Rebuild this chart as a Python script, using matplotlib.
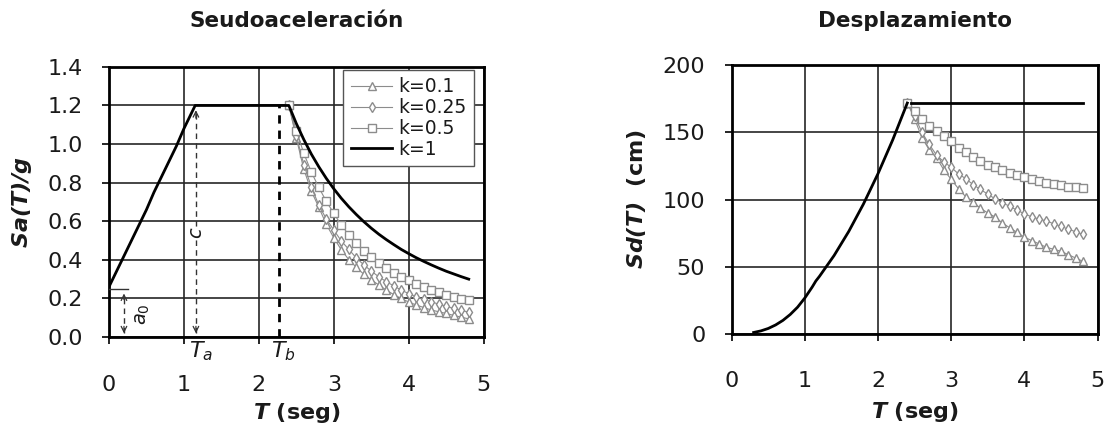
import matplotlib
matplotlib.use('Agg')
import matplotlib.pyplot as plt

# ---------------- data ----------------
T_rise = [0.0, 0.1, 0.2, 0.3, 0.4, 0.5, 0.6, 0.7, 0.8, 0.9, 1.0, 1.1, 1.15, 2.4]
Sa_rise = [0.26, 0.34, 0.42, 0.50, 0.58, 0.66, 0.75, 0.83, 0.91, 0.99, 1.08, 1.16, 1.20, 1.20]

T_dec = [2.4, 2.5, 2.6, 2.7, 2.8, 2.9, 3.0, 3.1, 3.2, 3.3, 3.4, 3.5, 3.6,
         3.7, 3.8, 3.9, 4.0, 4.1, 4.2, 4.3, 4.4, 4.5, 4.6, 4.7, 4.8]
Sa_k1 = [1.200, 1.106, 1.023, 0.948, 0.882, 0.822, 0.768, 0.719, 0.675, 0.635, 0.598, 0.564, 0.533,
         0.505, 0.479, 0.454, 0.432, 0.411, 0.392, 0.374, 0.357, 0.341, 0.327, 0.313, 0.300]
Sa_k05 = [1.200, 1.069, 0.952, 0.855, 0.775, 0.703, 0.641, 0.580, 0.530, 0.486, 0.447, 0.414, 0.385,
          0.359, 0.334, 0.312, 0.293, 0.275, 0.260, 0.245, 0.232, 0.220, 0.208, 0.199, 0.190]
Sa_k025 = [1.200, 1.043, 0.893, 0.778, 0.683, 0.612, 0.554, 0.498, 0.454, 0.410, 0.374, 0.342, 0.312,
           0.287, 0.265, 0.243, 0.225, 0.208, 0.195, 0.183, 0.170, 0.159, 0.148, 0.138, 0.129]
Sa_k01 = [1.200, 1.030, 0.869, 0.756, 0.672, 0.584, 0.514, 0.452, 0.401, 0.362, 0.325, 0.296, 0.270,
          0.243, 0.220, 0.200, 0.181, 0.166, 0.153, 0.140, 0.131, 0.122, 0.112, 0.103, 0.094]

T_sd_rise = [0.3, 0.4, 0.5, 0.6, 0.7, 0.8, 0.9, 1.0, 1.1, 1.15, 1.2, 1.4, 1.6, 1.8, 2.0, 2.2, 2.4]
Sd_rise = [1.1, 2.3, 4.1, 6.7, 10.1, 14.5, 19.9, 26.8, 34.9, 39.4, 42.9, 58.4, 76.3, 96.6, 119.3, 144.3, 171.8]
T_flat = [2.4, 4.8]
Sd_flat = [171.8, 171.8]
Sd_k05 = [172, 166, 160, 155, 151, 147, 143.5, 138.5, 135, 131.5, 128.5, 126, 124,
          122, 120, 118, 116.5, 115, 114, 112.5, 111.5, 110.5, 109.5, 109, 108.5]
Sd_k025 = [172, 162, 150, 141, 133, 128, 124, 119, 115.5, 111, 107.5, 104, 100.5,
           97.5, 95, 92, 89.5, 87, 85.5, 84, 82, 80, 78, 76, 74]
Sd_k01 = [172, 160, 146, 137, 131, 122, 115, 108, 102, 98, 93.5, 90, 87,
          82.5, 79, 75.5, 72, 69.5, 67, 64.5, 63, 61.5, 59, 56.5, 54]

labels = ['k=0.1', 'k=0.25', 'k=0.5', 'k=1']
Ta, Tb, a0_T, a0, c_val = 1.16, 2.27, 0.20, 0.25, 1.20

x_ticks = [0, 1, 2, 3, 4, 5]
sa_ticks = [0.0, 0.2, 0.4, 0.6, 0.8, 1.0, 1.2, 1.4]
sd_ticks = [0, 50, 100, 150, 200]

# ---------------- style ----------------
plt.rcParams['font.family'] = ['DejaVu Sans']
plt.rcParams['mathtext.fontset'] = 'dejavusans'
TXT = '#1a1a1a'
GRID = '#262626'
MK = '#8c8c8c'

fig = plt.figure(figsize=(11.12, 4.4), dpi=100)
ax1 = fig.add_axes([0.098, 0.234, 0.337, 0.614])
ax2 = fig.add_axes([0.658, 0.241, 0.329, 0.611])

mk_kw = dict(color=MK, lw=0.8, markerfacecolor='white', markeredgecolor=MK,
             markeredgewidth=1.0, markersize=5.5)

def style(ax, yt, ylim, yfmt):
    ax.set_xlim(0, 5)
    ax.set_ylim(*ylim)
    ax.set_xticks(x_ticks)
    ax.set_yticks(yt)
    ax.set_yticklabels([yfmt(v) for v in yt])
    ax.grid(True, color=GRID, lw=1.2)
    ax.set_axisbelow(True)
    for s in ax.spines.values():
        s.set_linewidth(2.0)
        s.set_color('black')
    ax.tick_params(axis='both', direction='out', length=5, width=1.2,
                   labelsize=16, colors='black', labelcolor=TXT)
    ax.tick_params(axis='x', pad=22)
    ax.tick_params(axis='y', pad=14)

# ---------------- left: Sa ----------------
ax1.plot(T_dec, Sa_k01, marker='^', label=labels[0], **mk_kw, zorder=3)
ax1.plot(T_dec, Sa_k025, marker='d', label=labels[1], **mk_kw, zorder=3)
ax1.plot(T_dec, Sa_k05, marker='s', label=labels[2], **mk_kw, zorder=3)
ax1.plot(T_rise + T_dec[1:], Sa_rise + Sa_k1[1:], color='black', lw=2.0, label=labels[3], zorder=4)
style(ax1, sa_ticks, (0, 1.4), lambda v: f'{v:.1f}')

# annotations
ax1.plot([Ta, Ta], [0.02, c_val - 0.03], ls=(0, (4, 3)), color='#333333', lw=1.0, zorder=5)
ax1.annotate('', xy=(Ta, c_val - 0.01), xytext=(Ta, c_val - 0.08),
             arrowprops=dict(arrowstyle='->', lw=0.9, color='#333333'), zorder=5)
ax1.annotate('', xy=(Ta, 0.005), xytext=(Ta, 0.07),
             arrowprops=dict(arrowstyle='->', lw=0.9, color='#333333'), zorder=5)
ax1.text(Ta, 0.54, 'c', rotation=90, style='italic', fontsize=14, color=TXT,
         ha='center', va='center', zorder=6,
         bbox=dict(facecolor='white', edgecolor='none', pad=0.5))
ax1.plot([0.0, a0_T + 0.05], [a0, a0], color='#333333', lw=1.0, zorder=5)
ax1.plot([a0_T, a0_T], [0.02, a0 - 0.03], ls=(0, (4, 3)), color='#333333', lw=1.0, zorder=5)
ax1.annotate('', xy=(a0_T, a0 - 0.01), xytext=(a0_T, a0 - 0.07),
             arrowprops=dict(arrowstyle='->', lw=0.9, color='#333333'), zorder=5)
ax1.annotate('', xy=(a0_T, 0.005), xytext=(a0_T, 0.07),
             arrowprops=dict(arrowstyle='->', lw=0.9, color='#333333'), zorder=5)
ax1.text(a0_T + 0.25, 0.12, r'$a_0$', rotation=90, fontsize=14, color=TXT,
         ha='center', va='center', zorder=6)
ax1.plot([Tb, Tb], [0, c_val], ls=(0, (3, 2.5)), color='black', lw=2.0, zorder=5)
ax1.text(Ta + 0.07, -0.075, r'$T_a$', fontsize=16, color=TXT, ha='center', va='center')
ax1.text(Tb + 0.05, -0.075, r'$T_b$', fontsize=16, color=TXT, ha='center', va='center')

leg = ax1.legend(loc='upper right', bbox_to_anchor=(0.973, 0.989), borderaxespad=0,
                 fontsize=13.5, handlelength=2.2, handletextpad=0.3, labelspacing=0.1,
                 borderpad=0.4, fancybox=False, framealpha=1, edgecolor='#555555')
leg.get_frame().set_linewidth(1.0)
for t in leg.get_texts():
    t.set_color(TXT)

ax1.set_xlabel(r'$\mathbfit{T}$ (seg)', fontsize=16, fontweight='bold', color=TXT, va='center')
ax1.xaxis.set_label_coords(0.5, -0.281)
ax1.set_ylabel(r'$\mathbfit{Sa(T)/g}$', fontsize=16, color=TXT, va='center')
ax1.yaxis.set_label_coords(-0.232, 0.5)
fig.text((0.098 + 0.435) / 2, 0.953, 'Seudoaceleración', fontsize=15.5, fontweight='bold',
         color=TXT, ha='center', va='center')

# ---------------- right: Sd ----------------
ax2.plot(T_dec, Sd_k01, marker='^', **mk_kw, zorder=3)
ax2.plot(T_dec, Sd_k025, marker='d', **mk_kw, zorder=3)
ax2.plot(T_dec, Sd_k05, marker='s', **mk_kw, zorder=3)
ax2.plot(T_sd_rise, Sd_rise, color='black', lw=2.0, zorder=4)
ax2.plot([T_flat[0] + 0.05, T_flat[1]], Sd_flat, color='black', lw=2.0, zorder=4)
style(ax2, sd_ticks, (0, 200), lambda v: f'{v:d}')

ax2.set_xlabel(r'$\mathbfit{T}$ (seg)', fontsize=16, fontweight='bold', color=TXT, va='center')
ax2.xaxis.set_label_coords(0.5, -0.29)
ax2.set_ylabel(r'$\mathbfit{Sd(T)}$  (cm)', fontsize=16, fontweight='bold', color=TXT, va='center')
ax2.yaxis.set_label_coords(-0.26, 0.5)
fig.text((0.658 + 0.987) / 2, 0.953, 'Desplazamiento', fontsize=15.5, fontweight='bold',
         color=TXT, ha='center', va='center')

fig.savefig('out.png', dpi=100, facecolor='white')
